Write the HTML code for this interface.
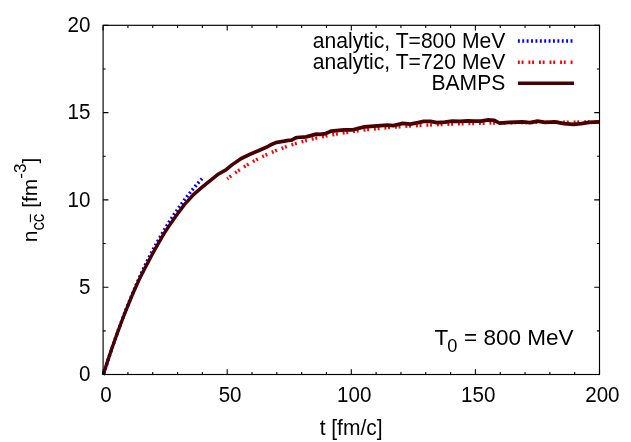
<!DOCTYPE html>
<html><head><meta charset="utf-8"><style>
html,body{margin:0;padding:0;background:#fff}
svg{display:block}
text{font-family:"Liberation Sans",sans-serif;font-size:21px;fill:#000}
</style></head><body>
<svg width="631" height="442" viewBox="0 0 631 442" style="will-change:transform">
<rect width="631" height="442" fill="#fff"/>
<polyline points="103.20,375.39 104.44,371.42 105.68,367.49 106.92,363.61 108.16,359.78 109.40,356.00 110.64,352.26 111.88,348.58 113.12,344.94 114.36,341.34 115.60,337.79 116.84,334.29 118.08,330.83 119.32,327.41 120.56,324.04 121.80,320.71 123.04,317.42 124.28,314.17 125.52,310.96 126.76,307.79 128.00,304.66 129.25,301.56 130.49,298.51 131.73,295.49 132.97,292.51 134.21,289.57 135.45,286.66 136.69,283.79 137.93,280.95 139.17,278.15 140.41,275.38 141.65,272.65 142.89,269.94 144.13,267.36 145.37,264.82 146.61,262.30 147.85,259.82 149.09,257.38 150.33,254.96 151.57,252.58 152.81,250.24 154.05,247.92 155.29,245.63 156.53,243.38 157.77,241.15 159.01,238.96 160.25,236.79 161.49,234.65 162.73,232.55 163.97,230.47 165.21,228.41 166.45,226.39 167.69,224.39 168.93,222.42 170.17,220.48 171.41,218.56 172.65,216.67 173.89,214.80 175.13,212.96 176.37,211.14 177.62,209.35 178.86,207.58 180.10,205.84 181.34,204.12 182.58,202.42 183.82,200.74 185.06,199.09 186.30,197.46 187.54,195.85 188.78,194.26 190.02,192.70 191.26,191.15 192.50,189.63 193.74,188.13 194.98,186.64 196.22,185.18 197.46,183.74 198.70,182.31 199.94,180.91 201.18,179.52 202.42,178.15" fill="none" stroke="#0000ff" stroke-width="3.4" stroke-dasharray="1.9 2.55" stroke-dashoffset="2.34"/>
<polyline points="227.23,178.90 229.71,176.95 232.19,175.07 234.67,173.25 237.15,171.49 239.63,169.79 242.11,168.15 244.59,166.56 247.07,165.03 249.55,163.55 252.03,162.13 254.51,160.75 256.99,159.41 259.47,158.13 261.95,156.88 264.43,155.68 266.91,154.52 269.39,153.40 271.87,152.32 274.35,151.27 276.83,150.26 279.32,149.29 281.80,148.34 284.28,147.43 286.76,146.56 289.24,145.71 291.72,144.89 294.20,144.09 296.68,143.33 299.16,142.59 301.64,141.87 304.12,141.19 306.60,140.52 309.08,139.88 311.56,139.25 314.04,138.65 316.52,138.07 319.00,137.51 321.48,136.97 323.96,136.45 326.44,135.94 328.93,135.46 331.41,134.99 333.89,134.53 336.37,134.09 338.85,133.67 341.33,133.26 343.81,132.86 346.29,132.48 348.77,132.11 351.25,131.75 353.73,131.41 356.21,131.07 358.69,130.75 361.17,130.44 363.65,130.14 366.13,129.85 368.61,129.57 371.09,129.30 373.57,129.04 376.05,128.79 378.54,128.54 381.02,128.31 383.50,128.08 385.98,127.86 388.46,127.65 390.94,127.44 393.42,127.24 395.90,127.05 398.38,126.87 400.86,126.69 403.34,126.52 405.82,126.35 408.30,126.19 410.78,126.03 413.26,125.88 415.74,125.74 418.22,125.60 420.70,125.46 423.18,125.33 425.66,125.21 428.15,125.08 430.63,124.97 433.11,124.85 435.59,124.74 438.07,124.64 440.55,124.53 443.03,124.44 445.51,124.34 447.99,124.25 450.47,124.16 452.95,124.07 455.43,123.99 457.91,123.91 460.39,123.83 462.87,123.76 465.35,123.68 467.83,123.61 470.31,123.55 472.79,123.48 475.27,123.42 477.76,123.36 480.24,123.30 482.72,123.24 485.20,123.19 487.68,123.13 490.16,123.08 492.64,123.03 495.12,122.98 497.60,122.94 500.08,122.89 502.56,122.85 505.04,122.81 507.52,122.77 510.00,122.73 512.48,122.69 514.96,122.66 517.44,122.62 519.92,122.59 522.40,122.55 524.88,122.52 527.37,122.49 529.85,122.46 532.33,122.43 534.81,122.41 537.29,122.38 539.77,122.35 542.25,122.33 544.73,122.31 547.21,122.28 549.69,122.26 552.17,122.24 554.65,122.22 557.13,122.20 559.61,122.18 562.09,122.16 564.57,122.14 567.05,122.12 569.53,122.11 572.01,122.09 574.50,122.08 576.98,122.06 579.46,122.05 581.94,122.03 584.42,122.02 586.90,122.00 589.38,121.99 591.86,121.98 594.34,121.97 596.82,121.96 599.30,121.94" fill="none" stroke="#ff0000" stroke-width="3.4" stroke-dasharray="1.9 1.8 1.9 4.92" stroke-dashoffset="0.58"/>
<g transform="scale(1,1.13)"><polyline points="103.20,331.75 104.44,328.27 105.68,324.83 106.92,321.45 108.16,318.10 109.40,314.81 110.64,311.56 111.88,308.35 113.12,305.18 114.36,302.06 115.60,298.98 116.84,295.95 118.08,292.95 119.32,290.00 120.56,287.07 121.80,284.17 123.04,281.31 124.28,278.48 125.52,275.70 126.76,272.95 128.00,270.24 129.25,267.56 130.49,264.92 131.73,262.32 132.97,259.75 134.21,257.22 135.45,254.72 136.69,252.25 137.93,249.82 139.17,247.54 140.41,245.29 141.65,243.07 142.89,240.89 144.13,238.73 145.37,236.61 146.61,234.52 147.85,232.46 149.09,230.36 150.33,228.29 151.57,226.23 152.81,224.20 154.05,222.19 155.29,220.21 156.53,218.26 157.77,216.33 159.01,214.44 160.25,212.54 161.49,210.61 162.73,208.70 163.97,206.82 168.90,200.22 175.70,191.49 184.50,180.98 194.20,171.61 202.90,165.11 210.70,159.50 217.50,154.56 226.30,150.03 232.10,145.80 241.80,140.00 250.60,136.27 258.40,133.42 268.00,129.56 271.40,127.88 275.60,126.28 284.20,124.96 288.50,124.16 291.40,124.07 295.60,122.04 297.20,121.68 306.10,121.09 316.20,118.74 319.90,118.94 325.60,118.17 331.40,115.98 344.10,114.97 351.70,115.01 364.40,112.32 377.10,111.31 387.60,110.80 393.30,111.15 402.80,109.12 410.40,109.82 418.00,108.58 423.70,107.43 430.40,107.43 437.00,108.58 444.70,108.14 452.30,107.26 459.90,107.43 467.50,106.90 475.10,107.26 480.80,107.26 488.40,106.11 494.10,106.46 499.50,108.94 509.00,108.32 522.30,107.79 530.00,108.58 537.50,107.26 545.20,108.32 554.70,107.79 564.20,109.47 573.70,110.00 581.30,109.47 588.90,108.32 599.00,107.79" fill="none" stroke="#480000" stroke-width="3.3" stroke-linejoin="round" stroke-linecap="butt"/></g>
<rect x="103.1" y="25.3" width="496.40" height="349.20" fill="none" stroke="#000" stroke-width="1.15"/>
<path d="M103.10 374.5 v-5.3 M103.10 25.3 v5.3 M127.92 374.5 v-2.6 M127.92 25.3 v2.6 M152.74 374.5 v-2.6 M152.74 25.3 v2.6 M177.56 374.5 v-2.6 M177.56 25.3 v2.6 M202.38 374.5 v-2.6 M202.38 25.3 v2.6 M227.20 374.5 v-5.3 M227.20 25.3 v5.3 M252.02 374.5 v-2.6 M252.02 25.3 v2.6 M276.84 374.5 v-2.6 M276.84 25.3 v2.6 M301.66 374.5 v-2.6 M301.66 25.3 v2.6 M326.48 374.5 v-2.6 M326.48 25.3 v2.6 M351.30 374.5 v-5.3 M351.30 25.3 v5.3 M376.12 374.5 v-2.6 M376.12 25.3 v2.6 M400.94 374.5 v-2.6 M400.94 25.3 v2.6 M425.76 374.5 v-2.6 M425.76 25.3 v2.6 M450.58 374.5 v-2.6 M450.58 25.3 v2.6 M475.40 374.5 v-5.3 M475.40 25.3 v5.3 M500.22 374.5 v-2.6 M500.22 25.3 v2.6 M525.04 374.5 v-2.6 M525.04 25.3 v2.6 M549.86 374.5 v-2.6 M549.86 25.3 v2.6 M574.68 374.5 v-2.6 M574.68 25.3 v2.6 M599.50 374.5 v-5.3 M599.50 25.3 v5.3 M103.1 374.50 h5.3 M599.5 374.50 h-5.3 M103.1 330.85 h2.6 M599.5 330.85 h-2.6 M103.1 287.20 h5.3 M599.5 287.20 h-5.3 M103.1 243.55 h2.6 M599.5 243.55 h-2.6 M103.1 199.90 h5.3 M599.5 199.90 h-5.3 M103.1 156.25 h2.6 M599.5 156.25 h-2.6 M103.1 112.60 h5.3 M599.5 112.60 h-5.3 M103.1 68.95 h2.6 M599.5 68.95 h-2.6 M103.1 25.30 h5.3 M599.5 25.30 h-5.3" stroke="#000" stroke-width="1.1" fill="none"/>
<text transform="translate(106.0,402.2) scale(1,1.06)" text-anchor="middle" style="font-size:20.6px">0</text><text transform="translate(230.1,402.2) scale(1,1.06)" text-anchor="middle" style="font-size:20.6px">50</text><text transform="translate(354.2,402.2) scale(1,1.06)" text-anchor="middle" style="font-size:20.6px">100</text><text transform="translate(478.3,402.2) scale(1,1.06)" text-anchor="middle" style="font-size:20.6px">150</text><text transform="translate(602.4,402.2) scale(1,1.06)" text-anchor="middle" style="font-size:20.6px">200</text>
<text transform="translate(90.4,381.2) scale(1,1.08)" text-anchor="end" style="font-size:20.6px">0</text><text transform="translate(90.4,293.9) scale(1,1.08)" text-anchor="end" style="font-size:20.6px">5</text><text transform="translate(90.4,206.6) scale(1,1.08)" text-anchor="end" style="font-size:20.6px">10</text><text transform="translate(90.4,119.3) scale(1,1.08)" text-anchor="end" style="font-size:20.6px">15</text><text transform="translate(90.4,32.0) scale(1,1.08)" text-anchor="end" style="font-size:20.6px">20</text>
<text transform="translate(505.3,47.8) scale(1,1.05)" text-anchor="end" style="font-size:21.1px">analytic, T=800 MeV</text>
<text transform="translate(505.3,69.1) scale(1,1.05)" text-anchor="end" style="font-size:21.1px">analytic, T=720 MeV</text>
<text transform="translate(505.3,90.4) scale(1,1.05)" text-anchor="end" style="font-size:21.1px">BAMPS</text>
<line x1="517.9" x2="572.7" y1="41" y2="41" stroke="#0000ff" stroke-width="3.4" stroke-dasharray="1.9 2.49"/>
<line x1="517.9" x2="572.7" y1="62.3" y2="62.3" stroke="#ff0000" stroke-width="3.4" stroke-dasharray="1.9 1.8 1.9 4.95"/>
<line x1="517.9" x2="574" y1="83.2" y2="83.2" stroke="#480000" stroke-width="3.6"/>
<text transform="translate(351.1,435.1) scale(1,1.04)" text-anchor="middle" style="font-size:21px">t [fm/c]</text>
<text x="434.6" y="344.8" style="font-size:22.5px">T<tspan font-size="18.2" dy="6.9" dx="-1">0</tspan><tspan dy="-6.9" dx="0.3"> = 800 MeV</tspan></text>
<text transform="translate(36.8,242.3) rotate(-90)">n</text>
<text transform="translate(43.8,230.6) rotate(-90) scale(1,1.13)" style="font-size:16.9px">cc</text>
<text transform="translate(36.8,207.8) rotate(-90)">[fm<tspan font-size="17" dy="-10.8">-3</tspan><tspan dy="10.8">]</tspan></text>
<line x1="30.4" x2="30.4" y1="214.3" y2="222.2" stroke="#000" stroke-width="1.1"/>
</svg>
</body></html>
